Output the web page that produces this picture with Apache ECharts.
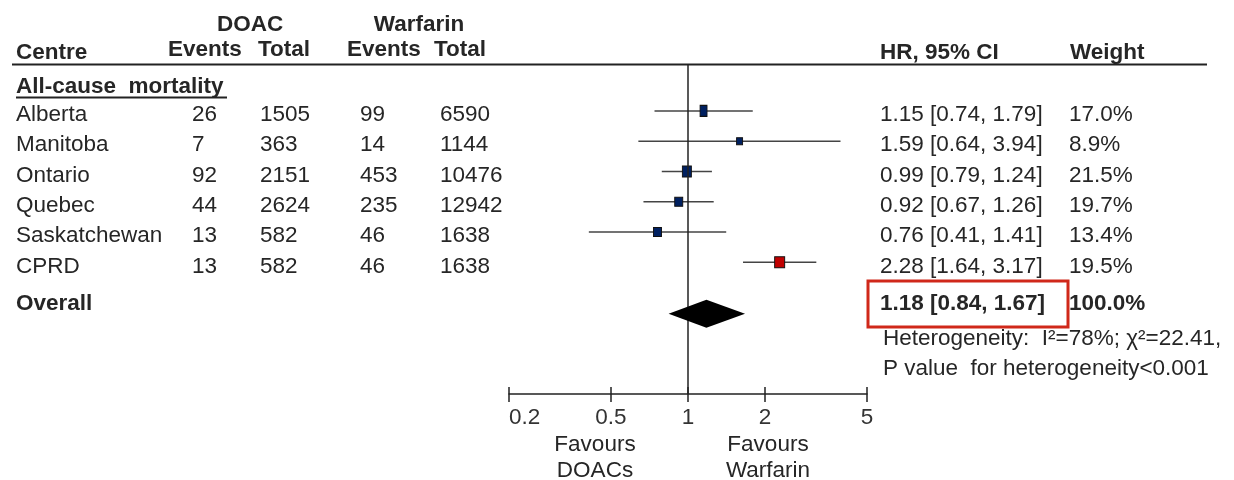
<!DOCTYPE html>
<html>
<head>
<meta charset="utf-8">
<script src="https://cdn.jsdelivr.net/npm/echarts@6/dist/echarts.min.js"></script>
<style>
  html, body { margin: 0; background: #fff; }
  #chart { width: 1234px; height: 480px; }
</style>
</head>
<body>
<div id="chart"></div>
<script>
// data
const centres = ['Alberta', 'Manitoba', 'Ontario', 'Quebec', 'Saskatchewan', 'CPRD'];
const doacEvents = [26, 7, 92, 44, 13, 13];
const doacTotal = [1505, 363, 2151, 2624, 582, 582];
const warfEvents = [99, 14, 453, 235, 46, 46];
const warfTotal = [6590, 1144, 10476, 12942, 1638, 1638];
const hr = [1.15, 1.59, 0.99, 0.92, 0.76, 2.28];
const ciLow = [0.74, 0.64, 0.79, 0.67, 0.41, 1.64];
const ciHigh = [1.79, 3.94, 1.24, 1.26, 1.41, 3.17];
const weights = ['17.0%', '8.9%', '21.5%', '19.7%', '13.4%', '19.5%'];
const overallHR = 1.18;
const overallLow = 0.84;
const overallHigh = 1.67;
const overallWeight = '100.0%';
const xTicks = [0.2, 0.5, 1, 2, 5];

// box sizes / colours (style, not data)
const boxSizes = [[7, 11], [6, 7], [9, 11], [8, 9], [8, 9], [10, 11]];
const boxColors = ['#002060', '#002060', '#002060', '#002060', '#002060', '#c00000'];
const overallRow = 6.7;

const FONT = '"Liberation Sans", Arial, sans-serif';
const TXT = '#262626';
const FS = 22.5;
const lg = v => Math.log10(v);

const chart = echarts.init(document.getElementById('chart'));

const xBase = {
  type: 'value',
  min: lg(0.2),
  max: lg(5),
  position: 'bottom',
  splitLine: { show: false }
};

chart.setOption({
  animation: false,
  grid: { left: 509, right: 367, top: 64, bottom: 86, outerBoundsMode: 'none' },
  xAxis: [
    Object.assign({}, xBase, {
      axisLine: { onZero: false, lineStyle: { color: '#222', width: 1.5 } },
      axisTick: { customValues: xTicks.map(lg), length: 8, lineStyle: { color: '#222', width: 1.5 } },
      axisLabel: {
        customValues: xTicks.map(lg),
        formatter: v => String(+Math.pow(10, v).toPrecision(2)),
        alignMinLabel: 'left',
        fontSize: FS, fontFamily: FONT, color: '#333', margin: 12
      }
    }),
    Object.assign({}, xBase, {
      axisLine: { show: false, onZero: false },
      axisTick: { inside: true, customValues: xTicks.map(lg), length: 7, lineStyle: { color: '#222', width: 1.5 } },
      axisLabel: { show: false }
    })
  ],
  yAxis: { type: 'value', inverse: true, min: -1.55, max: 9.35, show: false },
  series: [
    {
      // confidence intervals
      type: 'custom',
      encode: { x: [0, 1], y: 2 },
      data: centres.map((c, i) => [lg(ciLow[i]), lg(ciHigh[i]), i]),
      renderItem: (params, api) => {
        const a = api.coord([api.value(0), api.value(2)]);
        const b = api.coord([api.value(1), api.value(2)]);
        return {
          type: 'line',
          shape: { x1: a[0], y1: a[1], x2: b[0], y2: b[1] },
          style: { stroke: '#444', lineWidth: 1.5 }
        };
      },
      markLine: {
        silent: true,
        symbol: 'none',
        label: { show: false },
        lineStyle: { color: '#222', width: 1.5, type: 'solid' },
        data: [{ xAxis: 0 }]
      },
      z: 2
    },
    {
      type: 'scatter',
      symbol: 'rect',
      data: hr.map((v, i) => ({
        value: [lg(v), i],
        symbolSize: boxSizes[i],
        itemStyle: { color: boxColors[i] }
      })),
      itemStyle: { borderColor: '#111', borderWidth: 1, opacity: 1 },
      z: 4
    },
    {
      // pooled estimate diamond
      type: 'custom',
      encode: { x: [0, 1, 2], y: 3 },
      data: [[lg(overallLow), lg(overallHR), lg(overallHigh), overallRow]],
      renderItem: (params, api) => {
        const y = api.value(3);
        const l = api.coord([api.value(0), y]);
        const m = api.coord([api.value(1), y]);
        const r = api.coord([api.value(2), y]);
        const h = 14;
        return {
          type: 'polygon',
          shape: { points: [[l[0], l[1]], [m[0], m[1] - h], [r[0], r[1]], [m[0], m[1] + h]] },
          style: { fill: '#000' }
        };
      },
      z: 5
    }
  ]
});

// table text around the plot
const rowY = i => chart.convertToPixel({ yAxisIndex: 0 }, i) + 4;
const txt = (text, x, y, opt) => Object.assign({
  type: 'text', x: x, y: y, silent: true,
  style: Object.assign({
    text: text, fill: TXT, fontSize: FS, fontFamily: FONT,
    textAlign: 'left', textVerticalAlign: 'middle'
  }, opt || {})
});
const bold = { fontWeight: 'bold' };

const g = [];
// header
g.push(txt('DOAC', 250, 25, { fontWeight: 'bold', textAlign: 'center' }));
g.push(txt('Warfarin', 419, 25, { fontWeight: 'bold', textAlign: 'center' }));
g.push(txt('Centre', 16, 53, bold));
g.push(txt('Events', 168, 50, bold));
g.push(txt('Total', 258, 50, bold));
g.push(txt('Events', 347, 50, bold));
g.push(txt('Total', 434, 50, bold));
g.push(txt('HR, 95% CI', 880, 53, bold));
g.push(txt('Weight', 1070, 53, bold));
g.push({ type: 'line', silent: true, shape: { x1: 12, y1: 64.5, x2: 1207, y2: 64.5 }, style: { stroke: '#222', lineWidth: 2 } });

// subgroup title
g.push(txt('All-cause  mortality', 16, 87, bold));
g.push({ type: 'line', silent: true, shape: { x1: 16, y1: 97.5, x2: 227, y2: 97.5 }, style: { stroke: '#222', lineWidth: 2 } });

centres.forEach((c, i) => {
  const y = rowY(i);
  g.push(txt(c, 16, y));
  g.push(txt(String(doacEvents[i]), 192, y));
  g.push(txt(String(doacTotal[i]), 260, y));
  g.push(txt(String(warfEvents[i]), 360, y));
  g.push(txt(String(warfTotal[i]), 440, y));
  g.push(txt(hr[i].toFixed(2) + ' [' + ciLow[i].toFixed(2) + ', ' + ciHigh[i].toFixed(2) + ']', 880, y));
  g.push(txt(weights[i], 1069, y));
});

// overall row
const oy = rowY(overallRow) - 14;
g.push(txt('Overall', 16, oy, bold));
g.push(txt(overallHR.toFixed(2) + ' [' + overallLow.toFixed(2) + ', ' + overallHigh.toFixed(2) + ']', 880, oy, bold));
g.push(txt(overallWeight, 1069, oy, bold));
g.push({ type: 'rect', silent: true, shape: { x: 868, y: 281, width: 200, height: 46 }, style: { fill: 'none', stroke: '#d0281a', lineWidth: 3 } });
g.push(txt('Heterogeneity:  I\u00b2=78%; \u03c7\u00b2=22.41,', 883, 339));
g.push(txt('P value  for heterogeneity<0.001', 883, 369));

// favours labels
g.push(txt('Favours', 595, 445, { textAlign: 'center' }));
g.push(txt('DOACs', 595, 471, { textAlign: 'center' }));
g.push(txt('Favours', 768, 445, { textAlign: 'center' }));
g.push(txt('Warfarin', 768, 471, { textAlign: 'center' }));

chart.setOption({ graphic: { elements: g } });
</script>
</body>
</html>
